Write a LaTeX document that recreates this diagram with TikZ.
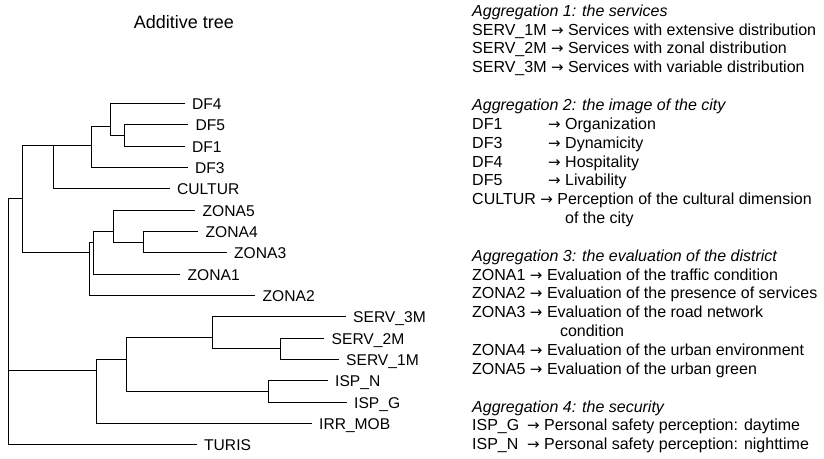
\documentclass[tikz,border=0pt]{standalone}
\usepackage{fontspec}
\setmainfont{Liberation Sans}
\newfontfamily\arrowfont{DejaVu Sans}
\newcommand{\ra}{{\arrowfont\fontsize{15}{19}\selectfont →}}
\begin{document}
\begin{tikzpicture}[x=1pt,y=-1pt,
  br/.style={line width=1.05pt,line join=miter},
  leaf/.style={anchor=base west,inner sep=0pt,font=\fontsize{15.6}{18}\selectfont},
  legend/.style={anchor=base west,inner sep=0pt,font=\fontsize{16}{19}\selectfont},
  ttl/.style={inner sep=0pt,font=\fontsize{18}{21}\selectfont}]
\useasboundingbox (0,0) rectangle (824,458);
\node[ttl] (title) at (184,22) {Additive tree};
% leaf line ends
\coordinate (eDF4) at (184.5,103.5);
\coordinate (eDF5) at (188,124.5);
\coordinate (eDF1) at (184.5,146.5);
\coordinate (eDF3) at (187.5,167.5);
\coordinate (eCULTUR) at (169.5,188.5);
\coordinate (eZONA5) at (195,210.5);
\coordinate (eZONA4) at (198,231.5);
\coordinate (eZONA3) at (226.5,252.5);
\coordinate (eZONA1) at (180,274.5);
\coordinate (eZONA2) at (255,295.5);
\coordinate (eSERV3) at (345.5,316.5);
\coordinate (eSERV2) at (324,338.5);
\coordinate (eSERV1) at (338.5,359.5);
\coordinate (eISPN) at (327.5,380.5);
\coordinate (eISPG) at (346.5,402.5);
\coordinate (eIRR) at (311.5,423.5);
\coordinate (eTURIS) at (196.5,444.5);
% leaf labels
\foreach \n/\t in {DF4/DF4,DF5/DF5,DF1/DF1,DF3/DF3,CULTUR/CULTUR,ZONA5/ZONA5,ZONA4/ZONA4,ZONA3/ZONA3,ZONA1/ZONA1,ZONA2/ZONA2,SERV3/SERV\_3M,SERV2/SERV\_2M,SERV1/SERV\_1M,ISPN/ISP\_N,ISPG/ISP\_G,IRR/IRR\_MOB,TURIS/TURIS}
  \node[leaf] (l\n) at ([xshift=7.5pt,yshift=-5.6pt]e\n) {\t};
% internal nodes (x, join y)
\coordinate (n1) at (124.5,135.5);
\coordinate (n2) at (110.5,126.5);
\coordinate (n3) at (91.5,145.5);
\coordinate (n4) at (53.5,145.5);
\coordinate (n5) at (22.5,198.5);
\coordinate (z1) at (143.5,242.5);
\coordinate (z2) at (113.5,231.5);
\coordinate (z3) at (93.5,242.5);
\coordinate (z4) at (89.5,252.5);
\coordinate (s1) at (280.5,348.5);
\coordinate (s2) at (212.5,337.5);
\coordinate (i1) at (268.5,391.5);
\coordinate (s3) at (126.5,359.5);
\coordinate (s4) at (96.5,370.5);
\coordinate (root) at (8.5,198.5);
% branches
\draw[br] (eDF5) -- (n1 |- eDF5) -- (n1 |- eDF1) -- (eDF1);
\draw[br] (eDF4) -- (n2 |- eDF4) -- (n2 |- n1) -- (n1);
\draw[br] (n2) -- (n3 |- n2) -- (n3 |- eDF3) -- (eDF3);
\draw[br] (n3) -- (n4 |- n3) -- (n4 |- eCULTUR) -- (eCULTUR);
\draw[br] (n4) -- (n5 |- n4) -- (n5 |- z4) -- (z4);
\draw[br] (eZONA4) -- (z1 |- eZONA4) -- (z1 |- eZONA3) -- (eZONA3);
\draw[br] (eZONA5) -- (z2 |- eZONA5) -- (z2 |- z1) -- (z1);
\draw[br] (z2) -- (z3 |- z2) -- (z3 |- eZONA1) -- (eZONA1);
\draw[br] (z3) -- (z4 |- z3) -- (z4 |- eZONA2) -- (eZONA2);
\draw[br] (eSERV2) -- (s1 |- eSERV2) -- (s1 |- eSERV1) -- (eSERV1);
\draw[br] (eSERV3) -- (s2 |- eSERV3) -- (s2 |- s1) -- (s1);
\draw[br] (eISPN) -- (i1 |- eISPN) -- (i1 |- eISPG) -- (eISPG);
\draw[br] (s2) -- (s3 |- s2) -- (s3 |- i1) -- (i1);
\draw[br] (s3) -- (s4 |- s3) -- (s4 |- eIRR) -- (eIRR);
\draw[br] (n5) -- (root |- n5) -- (root |- eTURIS) -- (eTURIS);
\draw[br] (s4) -- (root |- s4);
% legend
\def\lx{472}
\node[legend] (a1) at (\lx,16.2) {\itshape Aggregation 1: the services};
\node[legend] (a1a) at (\lx,35.05) {SERV\_1M \ra{} Services with extensive distribution};
\node[legend] (a1b) at (\lx,53.9) {SERV\_2M \ra{} Services with zonal distribution};
\node[legend] (a1c) at (\lx,72.75) {SERV\_3M \ra{} Services with variable distribution};
\node[legend] (a2) at (\lx,110.45) {\itshape Aggregation 2: the image of the city};
\node[legend] (a2a) at (\lx,129.3) {\makebox[76pt][l]{DF1}\ra{} Organization};
\node[legend] (a2b) at (\lx,148.15) {\makebox[76pt][l]{DF3}\ra{} Dynamicity};
\node[legend] (a2c) at (\lx,167) {\makebox[76pt][l]{DF4}\ra{} Hospitality};
\node[legend] (a2d) at (\lx,185.85) {\makebox[76pt][l]{DF5}\ra{} Livability};
\node[legend] (a2e) at (\lx,204.7) {CULTUR \ra{} Perception of the cultural dimension};
\node[legend] (a2f) at (\lx,223.55) {\hphantom{\makebox[76pt][l]{}\ra{} }of the city};
\node[legend] (a3) at (\lx,261.25) {\itshape Aggregation 3: the evaluation of the district};
\node[legend] (a3a) at (\lx,280.1) {ZONA1 \ra{} Evaluation of the traffic condition};
\node[legend] (a3b) at (\lx,298.95) {ZONA2 \ra{} Evaluation of the presence of services};
\node[legend] (a3c) at (\lx,317.8) {ZONA3 \ra{} Evaluation of the road network};
\node[legend] (a3d) at (\lx,336.65) {\hphantom{ZONA3 \ra{} }\hspace{13pt}condition};
\node[legend] (a3e) at (\lx,355.5) {ZONA4 \ra{} Evaluation of the urban environment};
\node[legend] (a3f) at (\lx,374.35) {ZONA5 \ra{} Evaluation of the urban green};
\node[legend] (a4) at (\lx,412.05) {\itshape Aggregation 4: the security};
\node[legend] (a4a) at (\lx,430.9) {\makebox[55pt][l]{ISP\_G}\ra{} Personal safety perception: daytime};
\node[legend] (a4b) at (\lx,449.75) {\makebox[55pt][l]{ISP\_N}\ra{} Personal safety perception: nighttime};
\end{tikzpicture}
\end{document}
